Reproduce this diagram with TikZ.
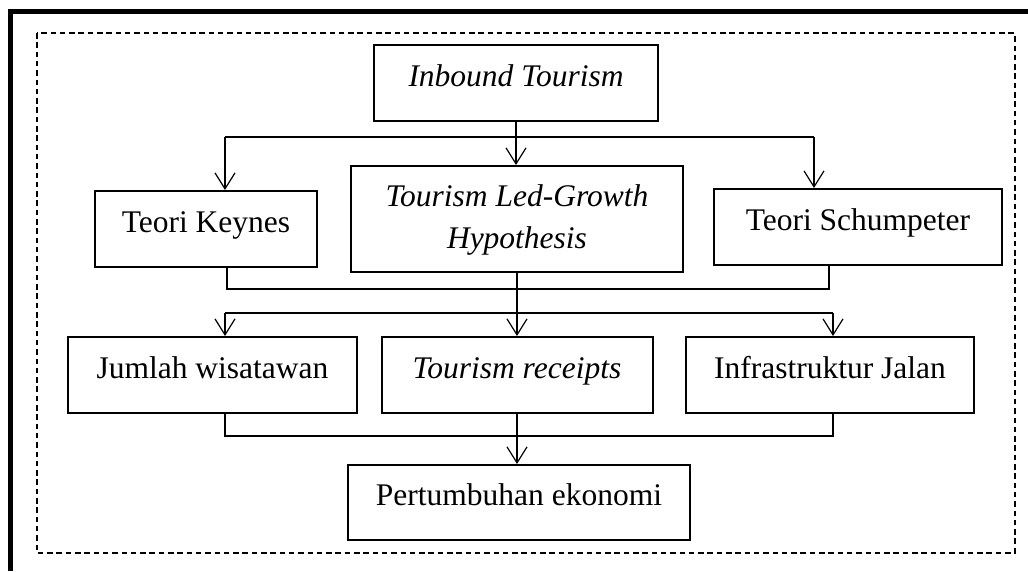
\documentclass[tikz,border=0pt]{standalone}
\usepackage{fontspec}
\setmainfont{Liberation Serif}
\usetikzlibrary{arrows.meta}
\begin{document}
\begin{tikzpicture}[x=1pt,y=-1pt,
  font=\fontsize{31.5}{41.6}\selectfont,
  box/.style={draw, line width=2pt, inner sep=0pt, text height=10pt, text depth=4pt},
  conn/.style={line width=1.2pt},
  arr/.style={conn, -{Straight Barb[length=16pt,width=20pt,line width=1.2pt]}},
  frame/.style={line width=5pt},
  dashframe/.style={line width=2pt, dash pattern=on 5.5pt off 3.8pt}]
\useasboundingbox (0,0) rectangle (1028,571);
\fill[white] (0,0) rectangle (1028,571);
% outer frame (top and left)
\draw[frame] (10.7,571) -- (10.7,11.7) -- (1028,11.7);
% dashed frame
\draw[dashframe] (37,33) rectangle (1014.5,553);
% boxes
\node[box, minimum width=284pt, minimum height=76pt] (inb) at (516,83) {\itshape Inbound Tourism};
\node[box, minimum width=222pt, minimum height=76pt] (key) at (206,229) {Teori Keynes};
\node[draw, line width=2pt, inner sep=0pt, minimum width=332pt, minimum height=106pt] (hyp) at (517,219) {};
\node[align=center, font=\fontsize{31.5}{41.6}\selectfont\itshape] (hyptext) at (517,220) {Tourism Led-Growth\\Hypothesis};
\node[box, minimum width=288pt, minimum height=76pt] (sch) at (858,227) {Teori Schumpeter};
\node[box, minimum width=289pt, minimum height=76pt] (jum) at (212.5,375) {Jumlah wisatawan};
\node[box, minimum width=271pt, minimum height=76pt] (rec) at (517,375) {\itshape Tourism receipts};
\node[box, minimum width=342pt, minimum height=75pt] (pert) at (519,502.5) {Pertumbuhan ekonomi};
\node[box, minimum width=288pt, minimum height=76pt] (inf) at (830,375) {Infrastruktur Jalan};
% junction coordinates
\coordinate (tl) at (225,137);
\coordinate (tr) at (814,137);
\coordinate (ml) at (227,289);
\coordinate (mr) at (829,289);
\coordinate (bl) at (225,313);
\coordinate (br) at (833,313);
\coordinate (cl) at (225,436);
\coordinate (cr) at (833,436);
% level 1
\draw[arr] (inb.south) -- (inb.south |- hyp.north);
\draw[conn] (tl) -- (tr);
\draw[arr] (tl) -- (tl |- key.north);
\draw[arr] (tr) -- (tr |- sch.north);
% level 2
\draw[conn] (ml |- key.south) -- (ml) -- (mr) -- (mr |- sch.south);
\draw[arr] (hyp.south) -- (hyp.south |- rec.north);
\draw[conn] (bl) -- (br);
\draw[arr] (bl) -- (bl |- jum.north);
\draw[arr] (br) -- (br |- inf.north);
% level 3
\draw[conn] (cl |- jum.south) -- (cl) -- (cr) -- (cr |- inf.south);
\draw[arr] (rec.south) -- (rec.south |- pert.north);
\end{tikzpicture}
\end{document}
